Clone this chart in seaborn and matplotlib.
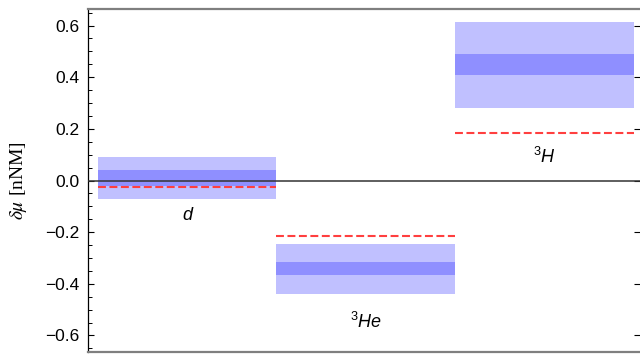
import numpy as np
import pandas as pd
import matplotlib
matplotlib.use("Agg")
import matplotlib.pyplot as plt
import seaborn as sns
from matplotlib.ticker import MultipleLocator, FuncFormatter

# values
nuclei = ["d", "$^3He$", "$^3H$"]
outer_low = [-0.070, -0.438, 0.282]
outer_high = [0.090, -0.246, 0.614]
inner_low = [-0.020, -0.365, 0.410]
inner_high = [0.041, -0.316, 0.490]
reference = [-0.024, -0.214, 0.185]
label_y = [-0.137, -0.548, 0.092]

df = pd.DataFrame({
    "nucleus": nuclei,
    "outer_low": outer_low, "outer_high": outer_high,
    "inner_low": inner_low, "inner_high": inner_high,
    "ref": reference, "label_y": label_y,
})
df["pos"] = np.arange(len(df))

sns.set_style("ticks")
plt.rcParams["font.family"] = ["Liberation Sans", "DejaVu Sans"]
plt.rcParams["mathtext.fontset"] = "custom"
plt.rcParams["mathtext.it"] = "Liberation Sans:italic"
plt.rcParams["mathtext.rm"] = "Liberation Sans"

fig = plt.figure(figsize=(6.4, 3.54), dpi=100)
ax = fig.add_axes([88 / 640, 1 - 351.5 / 354, 1 - 88 / 640, (351.5 - 9) / 354])

light = "#c0c0ff"
dark = "#8f8fff"

ax.bar(df["pos"], df["outer_high"] - df["outer_low"], bottom=df["outer_low"],
       width=1.0, align="edge", color=light, linewidth=0, zorder=1)
ax.bar(df["pos"], df["inner_high"] - df["inner_low"], bottom=df["inner_low"],
       width=1.0, align="edge", color=dark, linewidth=0, zorder=2)

ax.axhline(0, color="#333333", lw=1.1, zorder=3)
ax.hlines(df["ref"], df["pos"], df["pos"] + 1, colors="#ff3f3f", lw=1.5,
          linestyles=(0, (3.8, 1.7)), zorder=4)

for _, r in df.iterrows():
    ax.text(r["pos"] + 0.5, r["label_y"], r["nucleus"], ha="center", va="center",
            fontsize=13, style="italic", color="black", zorder=5)

ax.set_xlim(-0.054, 3.036)
ax.set_ylim(-0.662, 0.664)
ax.set_xticks([])
ax.yaxis.set_major_locator(MultipleLocator(0.2))
ax.yaxis.set_minor_locator(MultipleLocator(0.05))
ax.yaxis.set_major_formatter(FuncFormatter(lambda v, p: f"{v:.1f}".replace("-", "\u2212")))
ax.tick_params(axis="y", which="major", direction="in", length=4.3, width=0.8,
               labelsize=12.5, labelcolor="black", color="black", right=True, pad=6)
ax.tick_params(axis="y", which="minor", direction="in", length=2.6, width=0.7,
               color="black")
ax.tick_params(axis="y", which="minor", right=False)

for side in ["top", "bottom"]:
    ax.spines[side].set_color("#7f7f7f")
    ax.spines[side].set_linewidth(1.6)
ax.spines["left"].set_color("black")
ax.spines["left"].set_linewidth(0.9)
ax.spines["right"].set_visible(False)

ax.set_ylabel(r"$\delta\mu$ [nNM]", fontsize=14, family="Liberation Serif",
              color="black", labelpad=12)
ax.yaxis.label.set_math_fontfamily("stix")

fig.savefig("out.png", dpi=100)
